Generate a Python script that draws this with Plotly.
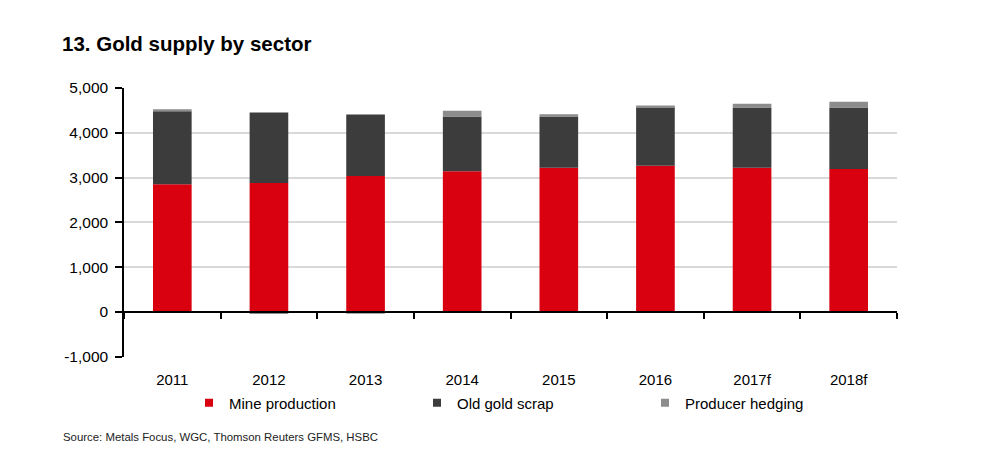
import plotly.graph_objects as go

years = ["2011", "2012", "2013", "2014", "2015", "2016", "2017f", "2018f"]
mine_production = [2850, 2879, 3036, 3141, 3222, 3266, 3222, 3192]
old_gold_scrap = [1633, 1573, 1371, 1221, 1140, 1307, 1342, 1372]
producer_hedging = [45, -45, -40, 128, 54, 36, 83, 127]
y_ticks = [-1000, 0, 1000, 2000, 3000, 4000, 5000]
y_tick_labels = ["-1,000", "0", "1,000", "2,000", "3,000", "4,000", "5,000"]

series = [("Mine production", mine_production, "#D9000F"),
          ("Old gold scrap", old_gold_scrap, "#3C3C3C"),
          ("Producer hedging", producer_hedging, "#8C8C8C")]

FONT = "Liberation Sans, Arial, sans-serif"

fig = go.Figure()
for name, vals, col in series:
    fig.add_trace(go.Bar(name=name, x=years, y=vals, showlegend=False,
                         marker=dict(color=col, line=dict(width=0))))
for name, vals, col in series:
    fig.add_trace(go.Scatter(name=name, x=[None], y=[None], mode="markers",
                             marker=dict(symbol="square", size=8, color=col),
                             showlegend=True))

fig.update_layout(
    width=1000, height=454,
    paper_bgcolor="white", plot_bgcolor="white",
    barmode="relative", bargap=0.6,
    margin=dict(l=124, r=103, t=88, b=97, autoexpand=False),
    title=dict(text="<b>13. Gold supply by sector</b>", x=0.062, xanchor="left",
               y=1 - 44 / 454, yanchor="middle", yref="container",
               pad=dict(l=0, r=0, t=0, b=0),
               font=dict(family=FONT, size=20.5, color="black")),
    font=dict(family=FONT, size=15, color="black"),
    xaxis=dict(type="category", anchor="free", position=1 / 6,
               showline=True, linecolor="black", linewidth=1.5,
               ticks="outside", tickson="boundaries", ticklen=6, tickwidth=1.5,
               tickcolor="black", showgrid=False, ticklabelstandoff=54,
               automargin=False,
               tickfont=dict(family=FONT, size=15, color="black")),
    yaxis=dict(range=[-1006, 5000], tickvals=y_ticks, ticktext=y_tick_labels,
               showline=True, linecolor="black", linewidth=1.5,
               ticks="outside", ticklen=7, tickwidth=1.5, tickcolor="black",
               ticklabelstandoff=4,
               showgrid=True, gridcolor="#D9D9D9", gridwidth=1.5,
               zeroline=False, automargin=False,
               tickfont=dict(family=FONT, size=15.5, color="black")),
    legend=dict(orientation="h", xref="container", yref="container",
                x=189 / 1000, xanchor="left", y=1 - 403 / 454, yanchor="middle",
                entrywidth=183, entrywidthmode="pixels", itemsizing="trace",
                font=dict(family=FONT, size=15, color="black"),
                bgcolor="rgba(0,0,0,0)", traceorder="normal",
                borderwidth=0),
    showlegend=True,
)

fig.add_annotation(text="Source: Metals Focus, WGC, Thomson Reuters GFMS, HSBC",
                   xref="paper", yref="paper", x=(61 - 124) / 773, y=(357 - 437) / 269,
                   xanchor="left", yanchor="middle", showarrow=False,
                   font=dict(family=FONT, size=11.4, color="#222222"))

fig.write_html("out.html", config={"displayModeBar": False},
               post_script="document.body.style.margin='0';")
